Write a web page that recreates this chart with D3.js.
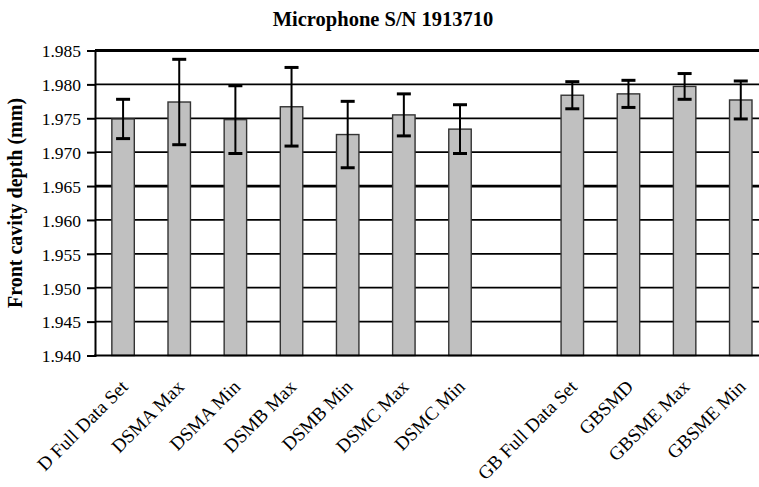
<!DOCTYPE html>
<html>
<head>
<meta charset="utf-8">
<script src="https://cdn.jsdelivr.net/npm/d3@7"></script>
<style>
  html, body { margin: 0; padding: 0; background: #fff; }
  svg { display: block; }
</style>
</head>
<body>
<svg id="chart" width="759" height="487"></svg>
<script>
// Front cavity depth measurements, microphone S/N 1913710
const categories = [
  "D Full Data Set", "DSMA Max", "DSMA Min", "DSMB Max", "DSMB Min",
  "DSMC Max", "DSMC Min", "",
  "GB Full Data Set", "GBSMD", "GBSME Max", "GBSME Min"
];
const depths = [
  1.9749, 1.9774, 1.9748, 1.9767, 1.9726,
  1.9755, 1.9734, null,
  1.9784, 1.9786, 1.9797, 1.9777
];
const errors = [
  0.0029, 0.0063, 0.0050, 0.0058, 0.0049,
  0.0031, 0.0036, null,
  0.0020, 0.0020, 0.0019, 0.0028
];
const yTicks = [1.940, 1.945, 1.950, 1.955, 1.960, 1.965, 1.970, 1.975, 1.980, 1.985];
const referenceLine = 1.965;

const svg = d3.select("#chart");
const plot = { left: 95, right: 825, top: 50.5, bottom: 355.5 };
const serif = "'Liberation Serif', 'Times New Roman', serif";

// one slot per category plus one trailing empty slot at the right edge
const slots = d3.range(categories.length + 1);
const x = d3.scaleBand()
  .domain(slots)
  .range([plot.left, plot.right])
  .paddingInner(0.6)
  .paddingOuter(0.3);

const y = d3.scaleLinear()
  .domain([yTicks[0], yTicks[yTicks.length - 1]])
  .range([plot.bottom, plot.top]);

// horizontal grid lines
svg.append("g")
  .selectAll("line")
  .data(yTicks.slice(1))
  .join("line")
  .attr("x1", plot.left)
  .attr("x2", plot.right)
  .attr("y1", d => y(d))
  .attr("y2", d => y(d))
  .attr("stroke", "#000")
  .attr("stroke-width", d => (d === referenceLine || d === yTicks[yTicks.length - 1]) ? 2.8 : 1.8);

// y axis with outward ticks
const yAxis = d3.axisLeft(y)
  .tickValues(yTicks)
  .tickFormat(d3.format(".3f"))
  .tickSize(8)
  .tickPadding(6);

const yAxisG = svg.append("g")
  .attr("transform", `translate(${plot.left},0)`)
  .call(yAxis);
yAxisG.attr("font-family", serif);
yAxisG.select(".domain").attr("stroke", "#000").attr("stroke-width", 2);
yAxisG.selectAll(".tick line").attr("stroke", "#000").attr("stroke-width", 2);
yAxisG.selectAll(".tick text")
  .attr("font-family", serif)
  .attr("font-size", "17.5px")
  .attr("fill", "#000")
  .attr("dy", "0.36em");

// bars
const rows = categories.map((c, i) => ({ i, name: c, v: depths[i], e: errors[i] }))
  .filter(d => d.v !== null);

svg.append("g")
  .selectAll("rect")
  .data(rows)
  .join("rect")
  .attr("x", d => x(d.i))
  .attr("width", x.bandwidth())
  .attr("y", d => y(d.v))
  .attr("height", d => y(yTicks[0]) - y(d.v))
  .attr("fill", "#c0c0c0")
  .attr("stroke", "#333")
  .attr("stroke-width", 1.4);

// bottom axis line
svg.append("line")
  .attr("x1", plot.left - 1)
  .attr("x2", plot.right)
  .attr("y1", plot.bottom)
  .attr("y2", plot.bottom)
  .attr("stroke", "#000")
  .attr("stroke-width", 2);

// error bars
const capHalf = 7;
const eb = svg.append("g").selectAll("g").data(rows).join("g")
  .attr("transform", d => `translate(${x(d.i) + x.bandwidth() / 2},0)`);
eb.append("line")
  .attr("y1", d => y(d.v + d.e))
  .attr("y2", d => y(d.v - d.e))
  .attr("stroke", "#000")
  .attr("stroke-width", 2);
eb.selectAll("line.cap")
  .data(d => [d.v + d.e, d.v - d.e])
  .join("line")
  .attr("class", "cap")
  .attr("x1", -capHalf)
  .attr("x2", capHalf)
  .attr("y1", d => y(d))
  .attr("y2", d => y(d))
  .attr("stroke", "#000")
  .attr("stroke-width", 3);

// rotated category labels
svg.append("g")
  .selectAll("text")
  .data(categories.map((c, i) => ({ i, name: c })).filter(d => d.name))
  .join("text")
  .attr("transform", d => `translate(${x(d.i) + x.bandwidth() / 2 + 6},388) rotate(-45)`)
  .attr("text-anchor", "end")
  .attr("font-family", serif)
  .attr("font-size", "19px")
  .attr("fill", "#000")
  .text(d => d.name);

// y axis title
svg.append("text")
  .attr("transform", `translate(22,${(plot.top + plot.bottom) / 2}) rotate(-90)`)
  .attr("text-anchor", "middle")
  .attr("font-family", serif)
  .attr("font-weight", "bold")
  .attr("font-size", "20px")
  .attr("fill", "#000")
  .text("Front cavity depth (mm)");

// chart title
svg.append("text")
  .attr("x", 383)
  .attr("y", 26)
  .attr("text-anchor", "middle")
  .attr("font-family", serif)
  .attr("font-weight", "bold")
  .attr("font-size", "20.5px")
  .attr("fill", "#000")
  .text("Microphone S/N 1913710");
</script>
</body>
</html>
